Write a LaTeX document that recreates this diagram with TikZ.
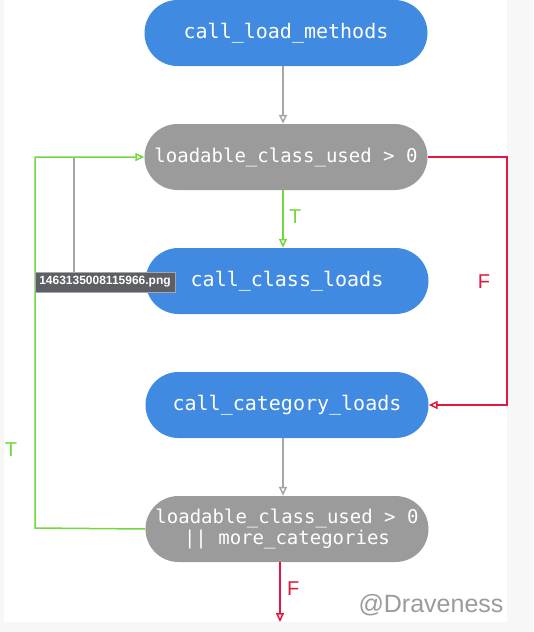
\documentclass[tikz,border=0pt]{standalone}
\usepackage{fontspec}
\setmainfont{Liberation Sans}
\setmonofont{DejaVu Sans Mono}
\usetikzlibrary{arrows.meta}
\definecolor{blueBox}{HTML}{418AE2}
\definecolor{grayBox}{HTML}{9B9B9B}
\definecolor{lineGray}{HTML}{A6A6A6}
\definecolor{lineGreen}{HTML}{72D83C}
\definecolor{lineRed}{HTML}{E3173E}
\definecolor{pageGray}{HTML}{F7F7F7}
\definecolor{tipGray}{HTML}{5C5F63}
\begin{document}
\begin{tikzpicture}[x=1pt,y=-1pt,
    box/.style={rectangle,rounded corners=33pt,minimum width=283pt,minimum height=66pt,
        text=white,inner sep=0pt,align=center},
    blueBox/.style={box,fill=blueBox,font=\ttfamily\fontsize{20}{24}\selectfont},
    grayBox/.style={box,fill=grayBox,font=\ttfamily\fontsize{19}{23}\selectfont},
    flow/.style={line width=1.5pt,-{Triangle[open,length=9pt,width=8pt]}},
    tf/.style={font=\fontsize{20}{24}\selectfont}]
    \fill[pageGray] (0,0) rectangle (533,632);
    \fill[white] (4,0) rectangle (507,622);
    \useasboundingbox (0,0) rectangle (533,632);
    % nodes
    \node[blueBox] (loadMethods) at (286,33) {call\_load\_methods};
    \node[grayBox] (classUsed) at (286,157) {loadable\_class\_used > 0};
    \node[blueBox] (classLoads) at (287,281) {call\_class\_loads};
    \node[blueBox] (categoryLoads) at (287,405) {call\_category\_loads};
    \node[grayBox] (moreLoads) at (287,529) {loadable\_class\_used > 0\\[-2pt]|| more\_categories};
    \coordinate (loopTop) at (35,157);
    \coordinate (loopBottom) at (35,528);
    \coordinate (backTop) at (74,157);
    \coordinate (redTop) at (507,157);
    \coordinate (redBottom) at (507,405);
    \coordinate (exitEnd) at (280,622);
    % connectors
    \draw[flow,lineGray] (loadMethods.south -| 283,0) -- (classUsed.north -| 283,0);
    \draw[flow,lineGreen] (classUsed.south -| 283,0) -- (classLoads.north -| 283,0)
        node[tf,pos=0.45,right=2pt]{T};
    \draw[line width=1.5pt,lineGray] (classLoads.west) -| (backTop);
    \draw[flow,lineRed] (classUsed.east) -- (redTop) -- (redBottom) -- (categoryLoads.east);
    \node[tf,text=lineRed] (redF) at (484,282) {F};
    \draw[flow,lineGray] (categoryLoads.south -| 283,0) -- (moreLoads.north -| 283,0);
    \draw[flow,lineGreen] (moreLoads.west) -- (loopBottom) -- (loopTop) -- (classUsed.west);
    \node[tf,text=lineGreen] (greenT) at (11,450) {T};
    \draw[flow,lineRed] (moreLoads.south -| exitEnd) -- (exitEnd)
        node[tf,pos=0.45,right=3pt]{F};
    % screenshot bits
    \node[fill=tipGray,draw=lineGray,text=white,inner sep=2pt,minimum height=20pt,
        minimum width=140pt,font=\bfseries\fontsize{12}{14}\selectfont]
        (tooltip) at (105,282) {1463135008115966.png};
    \node[text=grayBox,font=\fontsize{25}{28}\selectfont] (mark) at (431,605) {@Draveness};
\end{tikzpicture}
\end{document}
